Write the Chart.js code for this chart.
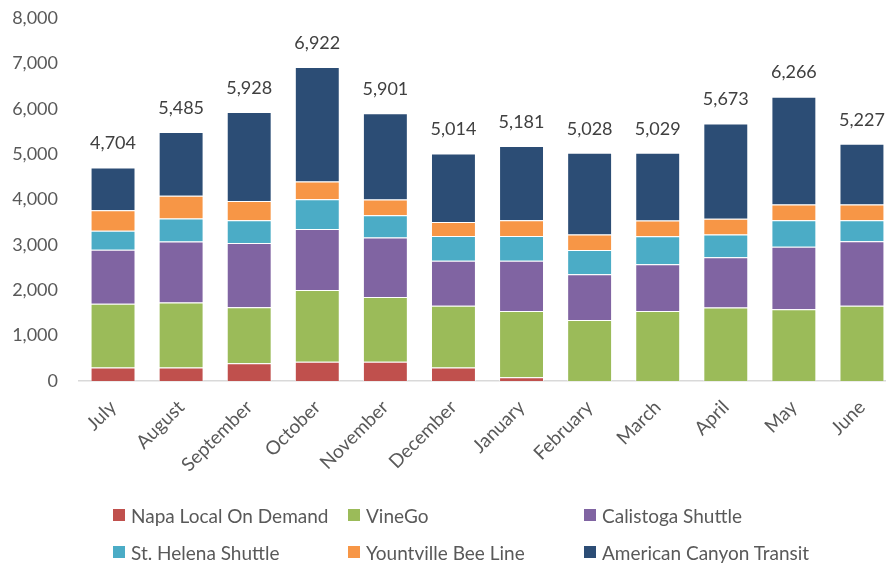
<!DOCTYPE html>
<html>
<head>
<meta charset="utf-8">
<script src="https://cdn.jsdelivr.net/npm/chart.js@4"></script>
<style>
  html, body { margin: 0; padding: 0; background: #fff; overflow: hidden; }
  #wrap { position: relative; width: 886px; height: 565px; overflow: hidden; }
  #box { position: absolute; left: 0; top: 0; width: 920px; height: 565px; }
  #legend { position: absolute; left: 0; top: 0; width: 886px; height: 565px; pointer-events: none;
            font-family: Lato, "Open Sans", sans-serif; font-size: 19px; color: #595959; }
  .item { position: absolute; display: flex; align-items: center; white-space: nowrap; }
  .swatch { width: 12px; height: 12px; margin-right: 6px; }
</style>
</head>
<body>
<div id="wrap">
  <div id="box"><canvas id="grafico"></canvas></div>
  <div id="legend"></div>
</div>
<script>
// datos
const meses = ["July", "August", "September", "October", "November", "December",
  "January", "February", "March", "April", "May", "June"];
const series = ["Napa Local On Demand", "VineGo", "Calistoga Shuttle",
  "St. Helena Shuttle", "Yountville Bee Line", "American Canyon Transit"];
const napaLocal = [300, 300, 390, 425, 425, 300, 80, 0, 0, 0, 0, 0];
const vineGo = [1400, 1430, 1235, 1580, 1425, 1360, 1460, 1345, 1540, 1620, 1580, 1660];
const calistoga = [1190, 1345, 1415, 1345, 1315, 990, 1110, 1005, 1035, 1110, 1380, 1420];
const stHelena = [420, 505, 505, 655, 490, 545, 545, 535, 615, 500, 580, 460];
const yountville = [455, 500, 420, 390, 345, 310, 345, 345, 345, 345, 350, 350];
const americanCanyon = [939, 1405, 1963, 2527, 1901, 1509, 1641, 1798, 1494, 2098, 2376, 1337];
const totales = [4704, 5485, 5928, 6922, 5901, 5014, 5181, 5028, 5029, 5673, 6266, 5227];
const ticksY = [0, 1000, 2000, 3000, 4000, 5000, 6000, 7000, 8000];

const colores = ["#C0504D", "#9BBB59", "#8064A2", "#4BACC6", "#F79646", "#2C4D75"];
const valores = [napaLocal, vineGo, calistoga, stHelena, yountville, americanCanyon];

const fuente = "Lato, 'Open Sans', sans-serif";

// etiquetas de total encima de cada barra
const totalPlugin = {
  id: "totales",
  afterDatasetsDraw(chart) {
    const ctx = chart.ctx;
    const ultima = chart.getDatasetMeta(valores.length - 1);
    ctx.save();
    ctx.font = "18px " + fuente;
    ctx.fillStyle = "#404040";
    ctx.textAlign = "center";
    ctx.textBaseline = "middle";
    ultima.data.forEach((bar, i) => {
      const y = chart.scales.y.getPixelForValue(totales[i]);
      ctx.fillText(totales[i].toLocaleString("en-US"), bar.x, y - 24);
    });
    ctx.restore();
  },
};

const chart = new Chart(document.getElementById("grafico"), {
  type: "bar",
  data: {
    labels: meses,
    datasets: series.map((nombre, i) => ({
      label: nombre,
      data: valores[i],
      backgroundColor: colores[i],
      borderColor: "rgba(255,255,255,0.6)",
      borderWidth: 1,
      barPercentage: 0.66,
      categoryPercentage: 1,
    })),
  },
  options: {
    responsive: true,
    maintainAspectRatio: false,
    animation: false,
    layout: { autoPadding: false, padding: { top: 18, right: 24, left: 0, bottom: 0 } },
    plugins: {
      legend: { display: false },
      tooltip: { enabled: false },
    },
    scales: {
      x: {
        stacked: true,
        grid: { display: false, drawTicks: false },
        border: { display: true, color: "#D9D9D9", width: 1.5 },
        ticks: {
          color: "#595959",
          font: { family: fuente, size: 19 },
          minRotation: 45,
          maxRotation: 45,
          padding: 15,
        },
        afterFit(s) { s.height = 565 - 381; },
      },
      y: {
        stacked: true,
        min: 0,
        max: 8000,
        afterBuildTicks(s) { s.ticks = ticksY.map((v) => ({ value: v })); },
        grid: { display: false, drawTicks: false },
        border: { display: false },
        ticks: {
          color: "#595959",
          font: { family: fuente, size: 18 },
          padding: 21,
          callback: (v) => v.toLocaleString("en-US"),
        },
        afterFit(s) {
          s.width = 79;
          s.paddingTop = 0;
          s.paddingBottom = 0;
        },
      },
    },
  },
  plugins: [totalPlugin],
});

// leyenda en tres columnas
const columnas = [113, 348, 584];
const filas = [515, 552];
const leyenda = document.getElementById("legend");
series.forEach((nombre, i) => {
  const d = document.createElement("div");
  d.className = "item";
  d.style.left = columnas[i % 3] + "px";
  d.style.top = (filas[Math.floor(i / 3)] - 12) + "px";
  d.style.height = "24px";
  d.innerHTML = '<span class="swatch" style="background:' + colores[i] + '"></span><span>' + nombre + "</span>";
  leyenda.appendChild(d);
});
</script>
</body>
</html>
